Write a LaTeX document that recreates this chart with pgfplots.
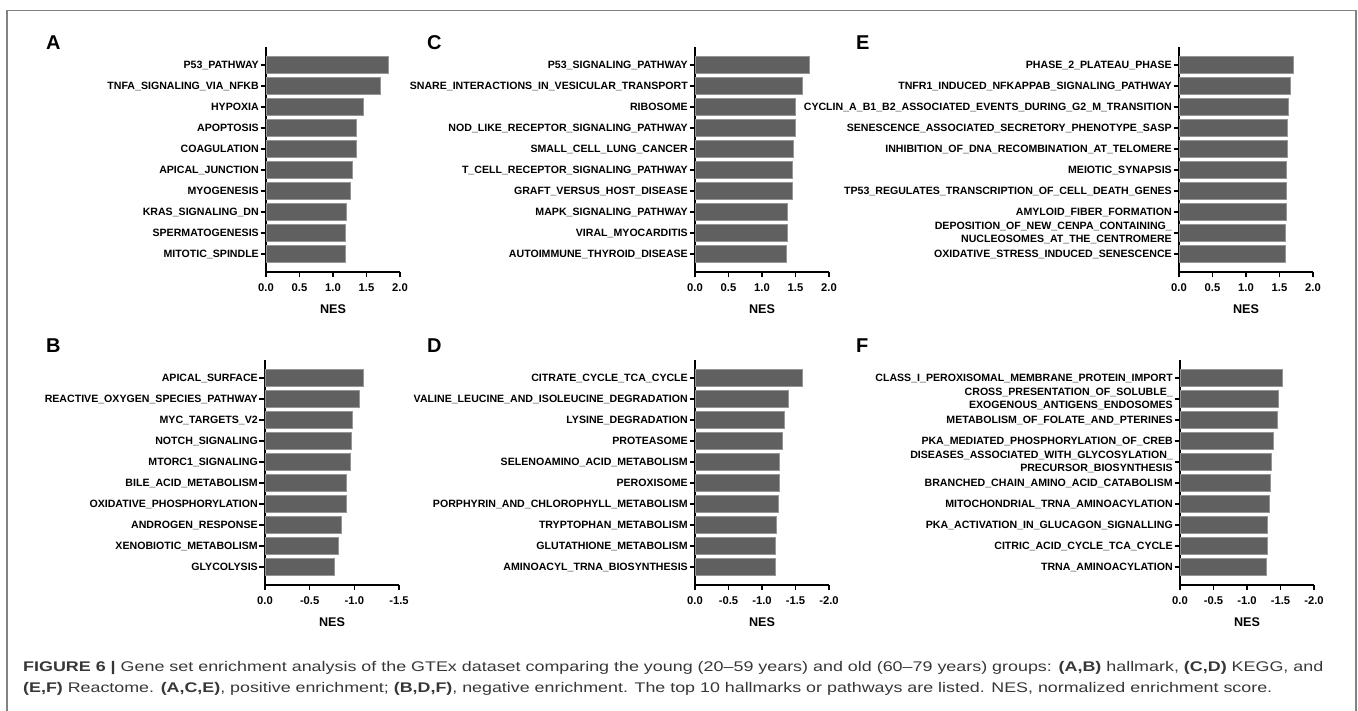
\documentclass[border=0pt]{standalone}
\usepackage{fontspec}
\setmainfont{Liberation Sans}
\usepackage{graphicx}
\usepackage{pgfplots}
\pgfplotsset{compat=1.18}
\definecolor{barfill}{RGB}{96,96,96}
\definecolor{baredge}{RGB}{150,150,150}
\definecolor{framec}{RGB}{130,130,130}
\definecolor{captc}{RGB}{55,55,55}
\pgfplotsset{
 nes/.style={
  scale only axis, width=134pt, height=225pt, anchor=south west,
  xbar, bar width=0.81, clip=false,
  axis x line*=bottom, axis y line*=left,
  axis line style={line width=1.5pt, black},
  ymin=-0.857, ymax=9.857, y dir=reverse, ytick={0,...,9},
  tick align=outside, major tick length=5.5pt,
  tick style={line width=1.1pt, black},
  yticklabel style={font=\fontsize{10.6}{12.6}\selectfont\bfseries, align=right, inner sep=1.5pt},
  xticklabel style={font=\fontsize{11.2}{13}\selectfont\bfseries, yshift=-3pt},
  xlabel={NES},
  xlabel style={font=\fontsize{12.6}{14}\selectfont\bfseries, at={(axis description cs:0.5,0)}, anchor=center, yshift=-37pt},
 },
 pos/.style={nes, xmin=0, xmax=2, xtick={0,0.5,1,1.5,2}, xticklabels={0.0,0.5,1.0,1.5,2.0}},
 negb/.style={nes, x dir=reverse, xmin=-1.5, xmax=0, xtick={0,-0.5,-1,-1.5}, xticklabels={0.0,-0.5,-1.0,-1.5}},
 neg/.style={nes, x dir=reverse, xmin=-2, xmax=0, xtick={0,-0.5,-1,-1.5,-2}, xticklabels={0.0,-0.5,-1.0,-1.5,-2.0}},
 barsty/.style={fill=barfill, draw=baredge, line width=0.5pt},
}
\begin{document}
\begin{tikzpicture}[x=1pt,y=1pt]
\useasboundingbox (0pt,0pt) rectangle (1358pt,711pt);
% Panel A
\begin{axis}[pos, at={(266pt,439pt)},
 yticklabels={P53\_PATHWAY,TNFA\_SIGNALING\_VIA\_NFKB,HYPOXIA,APOPTOSIS,COAGULATION,APICAL\_JUNCTION,MYOGENESIS,KRAS\_SIGNALING\_DN,SPERMATOGENESIS,MITOTIC\_SPINDLE}]
\addplot[barsty] coordinates {(1.825,0) (1.71,1) (1.45,2) (1.35,3) (1.34,4) (1.29,5) (1.25,6) (1.20,7) (1.19,8) (1.18,9)};
\end{axis}
% Panel C
\begin{axis}[pos, at={(695pt,439pt)},
 yticklabels={P53\_SIGNALING\_PATHWAY,SNARE\_INTERACTIONS\_IN\_VESICULAR\_TRANSPORT,RIBOSOME,NOD\_LIKE\_RECEPTOR\_SIGNALING\_PATHWAY,SMALL\_CELL\_LUNG\_CANCER,T\_CELL\_RECEPTOR\_SIGNALING\_PATHWAY,GRAFT\_VERSUS\_HOST\_DISEASE,MAPK\_SIGNALING\_PATHWAY,VIRAL\_MYOCARDITIS,AUTOIMMUNE\_THYROID\_DISEASE}]
\addplot[barsty] coordinates {(1.70,0) (1.605,1) (1.50,2) (1.49,3) (1.46,4) (1.45,5) (1.45,6) (1.38,7) (1.37,8) (1.36,9)};
\end{axis}
% Panel E
\begin{axis}[pos, at={(1179pt,439pt)},
 yticklabels={PHASE\_2\_PLATEAU\_PHASE,TNFR1\_INDUCED\_NFKAPPAB\_SIGNALING\_PATHWAY,CYCLIN\_A\_B1\_B2\_ASSOCIATED\_EVENTS\_DURING\_G2\_M\_TRANSITION,SENESCENCE\_ASSOCIATED\_SECRETORY\_PHENOTYPE\_SASP,INHIBITION\_OF\_DNA\_RECOMBINATION\_AT\_TELOMERE,MEIOTIC\_SYNAPSIS,TP53\_REGULATES\_TRANSCRIPTION\_OF\_CELL\_DEATH\_GENES,AMYLOID\_FIBER\_FORMATION,{DEPOSITION\_OF\_NEW\_CENPA\_CONTAINING\_\\NUCLEOSOMES\_AT\_THE\_CENTROMERE},OXIDATIVE\_STRESS\_INDUCED\_SENESCENCE}]
\addplot[barsty] coordinates {(1.70,0) (1.66,1) (1.63,2) (1.62,3) (1.61,4) (1.60,5) (1.595,6) (1.595,7) (1.59,8) (1.585,9)};
\end{axis}
% Panel B
\begin{axis}[negb, at={(265pt,126pt)},
 yticklabels={APICAL\_SURFACE,REACTIVE\_OXYGEN\_SPECIES\_PATHWAY,MYC\_TARGETS\_V2,NOTCH\_SIGNALING,MTORC1\_SIGNALING,BILE\_ACID\_METABOLISM,OXIDATIVE\_PHOSPHORYLATION,ANDROGEN\_RESPONSE,XENOBIOTIC\_METABOLISM,GLYCOLYSIS}]
\addplot[barsty] coordinates {(-1.10,0) (-1.056,1) (-0.978,2) (-0.97,3) (-0.95,4) (-0.907,5) (-0.905,6) (-0.85,7) (-0.82,8) (-0.776,9)};
\end{axis}
% Panel D
\begin{axis}[neg, at={(695pt,126pt)},
 yticklabels={CITRATE\_CYCLE\_TCA\_CYCLE,VALINE\_LEUCINE\_AND\_ISOLEUCINE\_DEGRADATION,LYSINE\_DEGRADATION,PROTEASOME,SELENOAMINO\_ACID\_METABOLISM,PEROXISOME,PORPHYRIN\_AND\_CHLOROPHYLL\_METABOLISM,TRYPTOPHAN\_METABOLISM,GLUTATHIONE\_METABOLISM,AMINOACYL\_TRNA\_BIOSYNTHESIS}]
\addplot[barsty] coordinates {(-1.597,0) (-1.39,1) (-1.33,2) (-1.30,3) (-1.26,4) (-1.255,5) (-1.24,6) (-1.21,7) (-1.205,8) (-1.195,9)};
\end{axis}
% Panel F
\begin{axis}[neg, at={(1180pt,126pt)},
 yticklabels={CLASS\_I\_PEROXISOMAL\_MEMBRANE\_PROTEIN\_IMPORT,{CROSS\_PRESENTATION\_OF\_SOLUBLE\_\\EXOGENOUS\_ANTIGENS\_ENDOSOMES},METABOLISM\_OF\_FOLATE\_AND\_PTERINES,PKA\_MEDIATED\_PHOSPHORYLATION\_OF\_CREB,{DISEASES\_ASSOCIATED\_WITH\_GLYCOSYLATION\_\\PRECURSOR\_BIOSYNTHESIS},BRANCHED\_CHAIN\_AMINO\_ACID\_CATABOLISM,MITOCHONDRIAL\_TRNA\_AMINOACYLATION,PKA\_ACTIVATION\_IN\_GLUCAGON\_SIGNALLING,CITRIC\_ACID\_CYCLE\_TCA\_CYCLE,TRNA\_AMINOACYLATION}]
\addplot[barsty] coordinates {(-1.527,0) (-1.46,1) (-1.45,2) (-1.39,3) (-1.36,4) (-1.34,5) (-1.335,6) (-1.30,7) (-1.295,8) (-1.29,9)};
\end{axis}
% panel letters
\begin{scope}[every node/.style={anchor=base west, inner sep=0pt, font=\fontsize{20}{24}\selectfont\bfseries}]
\node at (46pt,661pt) {A};
\node at (427pt,661pt) {C};
\node at (856pt,661pt) {E};
\node at (46pt,358pt) {B};
\node at (427pt,358pt) {D};
\node at (856pt,358pt) {F};
\end{scope}
% frame
\draw[framec, line width=1.5pt] (7pt,0pt) -- (7pt,700.5pt) -- (1356pt,700.5pt) -- (1356pt,0pt);
% caption
\node[anchor=base west, inner sep=0pt, text=captc, font=\fontsize{14}{16}\selectfont] at (23pt,39pt)
 {\resizebox{1300pt}{\height}{\textbf{FIGURE 6 |} Gene set enrichment analysis of the GTEx dataset comparing the young (20–59 years) and old (60–79 years) groups: \textbf{(A,B)} hallmark, \textbf{(C,D)} KEGG, and}};
\node[anchor=base west, inner sep=0pt, text=captc, font=\fontsize{14}{16}\selectfont] at (23pt,18pt)
 {\resizebox{1249pt}{\height}{\textbf{(E,F)} Reactome. \textbf{(A,C,E)}, positive enrichment; \textbf{(B,D,F)}, negative enrichment. The top 10 hallmarks or pathways are listed. NES, normalized enrichment score.}};
\end{tikzpicture}
\end{document}
